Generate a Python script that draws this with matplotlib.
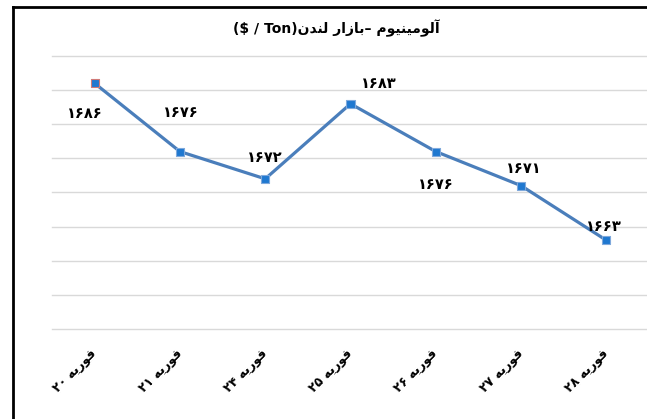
import matplotlib
matplotlib.use('Agg')
import matplotlib.pyplot as plt
from matplotlib.lines import Line2D

# data (London aluminium, $ / Ton)
days = [20, 21, 24, 25, 26, 27, 28]
prices = [1686, 1676, 1672, 1683, 1676, 1671, 1663]

# Persian words written in visual order with presentation forms,
# since matplotlib does no Arabic shaping or bidi
FEB_VIS = '\ufeea\ufef3\ufead\ufeee\ufed3'            # فوریه
LONDON_VIS = '\ufee5\ufeaa\ufee8\ufedf'                # لندن
BAZAR_VIS = '\ufead\ufe8d\ufeaf\ufe8e\ufe91'           # بازار
ALUM_VIS = '\ufee1\ufeee\ufef4\ufee8\ufef4\ufee3\ufeee\ufedf\ufe81'  # آلومینیوم

FA = str.maketrans('0123456789', '\u06f0\u06f1\u06f2\u06f3\u06f4\u06f5\u06f6\u06f7\u06f8\u06f9')


def fa(n):
    return str(n).translate(FA)


title = '($ / Ton)' + LONDON_VIS + ' ' + BAZAR_VIS + '\u2013 ' + ALUM_VIS
tick_labels = [fa(d) + ' ' + FEB_VIS for d in days]

# label offsets in pixels (dx, dy), like the reference
label_offsets = [(-10, -30), (1, 39), (0, 21), (28, 20), (0, -33), (3, 17), (-2, 14)]

W, H = 647, 419
fig = plt.figure(figsize=(W / 100, H / 100), dpi=100)
ax = fig.add_axes([52 / W, 90 / H, 597 / W, 273 / H])

x = list(range(len(days)))
ax.plot(x, prices, color='#4a7ebb', lw=2.3, zorder=3, solid_capstyle='round')
edges = ['#d07a78'] + ['#7fa9dc'] * (len(days) - 1)
ax.scatter(x, prices, marker='s', s=34, c='#1f78d0', edgecolors=edges, linewidths=0.8, zorder=4)

for xi, p, (dx, dy) in zip(x, prices, label_offsets):
    ax.annotate(fa(p), (xi, p), xytext=(dx * 0.72, dy * 0.72), textcoords='offset points',
                ha='center', va='center', fontsize=10.5, fontweight='bold', family='DejaVu Sans')

ax.set_xlim(-0.5, 6.5)
ax.set_ylim(1650, 1690)
ax.set_yticks(range(1650, 1691, 5))
ax.set_yticklabels([])
ax.yaxis.grid(True, color='#d9d9d9', lw=1)
for gl in ax.get_ygridlines():
    gl.set_clip_on(False)
ax.set_axisbelow(True)
for s in ax.spines.values():
    s.set_visible(False)

ax.set_xticks(x)
ax.set_xticklabels(tick_labels, rotation=45, ha='right', va='center', rotation_mode='anchor',
                   fontsize=9, fontweight='bold')
ax.tick_params(axis='both', length=0)
ax.tick_params(axis='x', pad=16)

fig.text(336 / W, 1 - 28 / H, title, ha='center', va='center', fontsize=10, fontweight='bold')

# outer chart frame: only the left and top edges are inside the picture
left, top = 13 / W, 1 - 7 / H
fig.lines.append(Line2D([left, left], [0, top], transform=fig.transFigure, color='black', lw=2))
fig.lines.append(Line2D([left, 1], [top, top], transform=fig.transFigure, color='black', lw=2))

fig.savefig('out.png', dpi=100)
